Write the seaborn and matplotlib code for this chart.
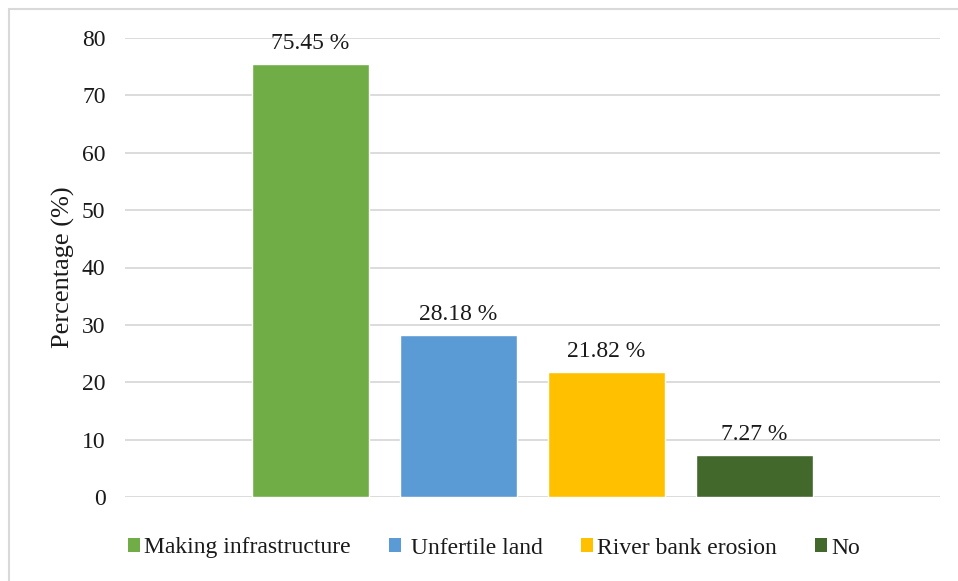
import matplotlib
matplotlib.use("Agg")
import matplotlib.pyplot as plt
from matplotlib.patches import Rectangle
import seaborn as sns
import pandas as pd

categories = ["Making infrastructure", "Unfertile land", "River bank erosion", "No"]
values = [75.45, 28.18, 21.82, 7.27]
colors = ["#70AD47", "#5B9BD5", "#FFC000", "#43682B"]
yticks = [0, 10, 20, 30, 40, 50, 60, 70, 80]

sns.set_theme(style="white")
plt.rcParams["font.family"] = ["Liberation Serif", "DejaVu Serif"]

df = pd.DataFrame({"reason": categories, "pct": values})

fig = plt.figure(figsize=(9.58, 5.81), dpi=100)
ax = fig.add_axes([125 / 958, 1 - 497 / 581, 815 / 958, 459 / 581])

sns.barplot(data=df, x="reason", y="pct", hue="reason", palette=colors,
            order=categories, hue_order=categories, width=117 / 148,
            dodge=False, legend=False, saturation=1, ax=ax)

ax.set_xlim(-1.253, 3 + 1.253)
ax.set_ylim(0, 80)
ax.set_yticks(yticks)
ax.set_yticklabels([str(t) for t in yticks], fontsize=17, color="#1a1a1a")
ax.set_xticks([])
ax.set_xlabel("")
ax.set_ylabel("Percentage (%)", fontsize=19, color="#1a1a1a", labelpad=5)
ax.tick_params(axis="y", length=0, pad=14)
ax.yaxis.grid(True, color="#d9d9d9", linewidth=1.3)
ax.set_axisbelow(True)
for s in ax.spines.values():
    s.set_visible(False)

for i, v in enumerate(values):
    ax.annotate(f"{v:.2f} %", xy=(i, v), xytext=(0, 11), textcoords="offset points",
                ha="center", va="baseline", fontsize=17, color="#1a1a1a")

handles = [Rectangle((0, 0), 1, 1, facecolor=c, edgecolor="none") for c in colors]
labels = ["Making infrastructure", " Unfertile land", "River bank erosion", "No"]
fig.legend(handles, labels, loc="center", bbox_to_anchor=(494 / 958, 1 - 548 / 581),
           ncol=4, frameon=False, fontsize=17, handlelength=0.5, handleheight=0.5,
           handletextpad=0.2, columnspacing=1.6, labelcolor="#1a1a1a")

# light outer frame of the chart area
fig.patches.append(Rectangle((9 / 958, -0.1), 1.2, 1 - 9 / 581 + 0.1,
                             transform=fig.transFigure, fill=False,
                             edgecolor="#d9d9d9", linewidth=1.5))

fig.savefig("out.png", dpi=100, facecolor="white")
